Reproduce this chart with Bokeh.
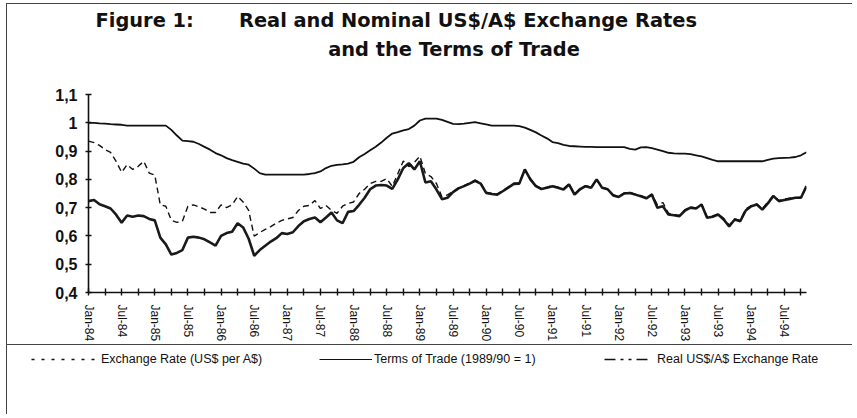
from bokeh.plotting import figure
from bokeh.models import (Range1d, FixedTicker, CustomJSTickFormatter, Title,
                          Legend, LegendItem)
from bokeh.embed import file_html
from bokeh.resources import INLINE

# ---------------- data (monthly, Jan-84 onwards) ----------------
TICK_LABELS = ["Jan-84", "Jul-84", "Jan-85", "Jul-85", "Jan-86", "Jul-86",
               "Jan-87", "Jul-87", "Jan-88", "Jul-88", "Jan-89", "Jul-89",
               "Jan-90", "Jul-90", "Jan-91", "Jul-91", "Jan-92", "Jul-92",
               "Jan-93", "Jul-93", "Jan-94", "Jul-94"]

TERMS_OF_TRADE = [
    1.0, 1.0, 0.998, 0.997, 0.995, 0.994, 0.993, 0.99, 0.99, 0.99, 0.99, 0.99,
    0.99, 0.99, 0.99, 0.975, 0.955, 0.937, 0.935, 0.933, 0.925, 0.915, 0.905, 0.893,
    0.885, 0.875, 0.868, 0.862, 0.856, 0.852, 0.838, 0.822, 0.817, 0.817, 0.817, 0.817,
    0.817, 0.817, 0.817, 0.817, 0.819, 0.822, 0.828, 0.84, 0.848, 0.851, 0.853, 0.856,
    0.862, 0.878, 0.89, 0.903, 0.915, 0.93, 0.947, 0.962, 0.967, 0.973, 0.978,
    0.99, 1.008, 1.015, 1.015, 1.015, 1.01, 1.003, 0.996, 0.995, 0.997, 1.0, 1.002,
    0.998, 0.994, 0.99, 0.99, 0.99, 0.99, 0.99, 0.988, 0.983, 0.975, 0.966, 0.955,
    0.945, 0.932, 0.928, 0.922, 0.918, 0.917, 0.916, 0.915, 0.915, 0.914, 0.914, 0.914,
    0.914, 0.914, 0.914, 0.908, 0.905, 0.913, 0.914, 0.91, 0.905, 0.9, 0.894, 0.892,
    0.891, 0.891, 0.889, 0.885, 0.881, 0.875, 0.869, 0.864, 0.864, 0.864, 0.864, 0.864,
    0.864, 0.864, 0.864, 0.864, 0.869, 0.873, 0.875, 0.876, 0.877, 0.879, 0.885, 0.896]

REAL_RATE = [
    0.723, 0.727, 0.712, 0.705, 0.697, 0.675, 0.647, 0.672, 0.668, 0.672, 0.67, 0.66,
    0.655, 0.594, 0.57, 0.534, 0.54, 0.55, 0.594, 0.597, 0.594, 0.588, 0.577, 0.566,
    0.60, 0.61, 0.615, 0.645, 0.63, 0.59, 0.53, 0.55, 0.565, 0.58, 0.592, 0.61,
    0.607, 0.613, 0.635, 0.652, 0.66, 0.665, 0.648, 0.665, 0.683, 0.655, 0.645, 0.685,
    0.688, 0.71, 0.735, 0.765, 0.778, 0.78, 0.778, 0.766, 0.80, 0.84, 0.857,
    0.835, 0.864, 0.789, 0.793, 0.764, 0.73, 0.735, 0.755, 0.768, 0.776, 0.785, 0.795,
    0.785, 0.752, 0.748, 0.746, 0.758, 0.771, 0.784, 0.785, 0.835, 0.80, 0.776, 0.766,
    0.77, 0.776, 0.77, 0.764, 0.782, 0.746, 0.765, 0.776, 0.77, 0.80, 0.77, 0.765,
    0.743, 0.738, 0.75, 0.752, 0.746, 0.74, 0.733, 0.746, 0.70, 0.705, 0.676, 0.673,
    0.67, 0.69, 0.70, 0.697, 0.711, 0.664, 0.668, 0.676, 0.658, 0.634, 0.658, 0.652,
    0.69, 0.705, 0.711, 0.693, 0.715, 0.741, 0.723, 0.727, 0.731, 0.735, 0.735, 0.776]

NOMINAL_RATE = [
    0.935, 0.93, 0.92, 0.905, 0.895, 0.864, 0.825, 0.852, 0.835, 0.846, 0.864, 0.822,
    0.815, 0.71, 0.705, 0.655, 0.648, 0.652, 0.705, 0.71, 0.703, 0.695, 0.683, 0.683,
    0.71, 0.70, 0.71, 0.74, 0.72, 0.69, 0.599, 0.612, 0.623, 0.633, 0.645, 0.655,
    0.66, 0.665, 0.69, 0.705, 0.708, 0.725, 0.697, 0.708, 0.69, 0.68, 0.705, 0.715,
    0.72, 0.75, 0.765, 0.785, 0.793, 0.793, 0.803, 0.775, 0.82, 0.865, 0.845,
    0.86, 0.882, 0.82, 0.81, 0.785, 0.738, 0.745, 0.757, 0.77, 0.778, 0.787, 0.797,
    0.787, 0.755, 0.75, 0.748, 0.76, 0.773, 0.786, 0.787, 0.835, 0.802, 0.778, 0.768,
    0.772, 0.778, 0.772, 0.766, 0.784, 0.748, 0.767, 0.778, 0.772, 0.80, 0.772, 0.765,
    0.745, 0.74, 0.752, 0.754, 0.748, 0.742, 0.735, 0.748, 0.71, 0.718, 0.68, 0.675,
    0.672, 0.692, 0.702, 0.698, 0.712, 0.668, 0.67, 0.678, 0.662, 0.638, 0.66, 0.655,
    0.695, 0.707, 0.713, 0.696, 0.72, 0.743, 0.725, 0.73, 0.733, 0.735, 0.737, 0.772]

SERIES_NAMES = ["Exchange Rate (US$ per A$)", "Terms of Trade (1989/90 = 1)",
                "Real US$/A$ Exchange Rate"]
TITLE_TEXT = ("Figure 1:\u2003\u2003\u2004Real and Nominal US$/A$ Exchange Rates\n"
              + "\u2003" * 12 + "and the Terms of Trade")

MONTHS = list(range(len(TERMS_OF_TRADE)))
N = len(MONTHS)

LINE_BG = "linear-gradient(#444, #444)"

# ---------------- chart ----------------
p = figure(width=852, height=342, frame_width=718, frame_height=198,
           x_range=Range1d(0, N - 1), y_range=Range1d(0.4, 1.1),
           min_border_left=88, min_border_right=46, min_border_top=94,
           min_border_bottom=50, toolbar_location=None, output_backend="svg",
           border_fill_color=None, background_fill_color=None,
           outline_line_color=None,
           styles={"background-image": ", ".join([LINE_BG] * 2),
                   "background-size": "1px 100%, 100% 1px",
                   "background-position": "6px 3px, 6px 3px",
                   "background-repeat": "no-repeat"})
p.grid.visible = False

p.line(MONTHS, TERMS_OF_TRADE, line_color="#111111", line_width=1.8)
p.line(MONTHS, REAL_RATE, line_color="#1a1a1a", line_width=2.6)
p.line(MONTHS, NOMINAL_RATE, line_color="#111111", line_width=1.4,
       line_dash="6 4")

major = list(range(0, N, 6))
minor = list(range(3, N, 6))
p.xaxis.ticker = FixedTicker(ticks=major, minor_ticks=minor)
p.xaxis.major_label_overrides = {m: TICK_LABELS[i] for i, m in enumerate(major)}
p.xaxis.major_label_orientation = "vertical"
p.xaxis.major_label_text_font = "Liberation Sans"
p.xaxis.major_label_text_font_size = "12px"
p.xaxis.major_label_text_color = "#111111"
p.xaxis.major_label_standoff = 9
p.xaxis.major_tick_in = 4
p.xaxis.major_tick_out = 3
p.xaxis.minor_tick_in = 4
p.xaxis.minor_tick_out = 3

p.yaxis.ticker = FixedTicker(ticks=[0.4, 0.5, 0.6, 0.7, 0.8, 0.9, 1.0, 1.1],
                             minor_ticks=[])
p.yaxis.formatter = CustomJSTickFormatter(
    code="return (Math.round(tick*10)/10).toString().replace('.', ',');")
p.yaxis.major_label_text_font = "Liberation Sans"
p.yaxis.major_label_text_font_style = "bold"
p.yaxis.major_label_text_font_size = "16px"
p.yaxis.major_label_text_color = "#111111"
p.yaxis.major_label_standoff = 8
p.yaxis.major_tick_in = 3
p.yaxis.major_tick_out = 3

for ax in (p.xaxis, p.yaxis):
    ax.axis_line_width = 1.6
    ax.axis_line_color = "#111111"
    ax.major_tick_line_width = 1.4
    ax.major_tick_line_color = "#111111"
    ax.minor_tick_line_width = 1.4
    ax.minor_tick_line_color = "#111111"

# spacer panel between frame and title (first added sits next to the frame)
p.add_layout(Title(text=" ", text_font_size="2px", standoff=30), "above")
p.add_layout(Title(text=TITLE_TEXT, align="left", offset=7, standoff=0,
                   text_font="DejaVu Sans", text_font_style="bold",
                   text_font_size="19.4px", text_color="#111111",
                   text_line_height=1.25), "above")

# ---------------- legend strip ----------------
# ranges chosen so the key lines themselves fall outside the visible strip
pl = figure(width=852, height=70, x_range=Range1d(0, 1), y_range=Range1d(10, 11),
            min_border=0, toolbar_location=None, output_backend="svg",
            x_axis_location=None, y_axis_location=None,
            border_fill_color=None, background_fill_color=None,
            outline_line_color=None,
            styles={"background-image": ", ".join([LINE_BG] * 2),
                    "background-size": "1px 100%, 100% 1px",
                    "background-position": "6px 0, 6px 0",
                    "background-repeat": "no-repeat"})
pl.grid.visible = False

k_nom = pl.line(MONTHS, NOMINAL_RATE, line_color="#111111", line_width=1.6,
                line_dash="3 7")
k_tot = pl.line(MONTHS, TERMS_OF_TRADE, line_color="#111111", line_width=1.0)
k_real = pl.line(MONTHS, REAL_RATE, line_color="#111111", line_width=1.6,
                 line_dash="11 5 3 5 3 5")

legend_specs = [(k_nom, SERIES_NAMES[0], 31, 68, 2),
                (k_tot, SERIES_NAMES[1], 319, 53, 2),
                (k_real, SERIES_NAMES[2], 604, 48, 5)]
for r, name, x0, gw, stand in legend_specs:
    lg = Legend(items=[LegendItem(label=name, renderers=[r])],
                location=(x0, 48), padding=0, margin=0,
                glyph_width=gw, glyph_height=14, label_height=14,
                label_standoff=stand, border_line_color=None,
                background_fill_alpha=0,
                label_text_font="Liberation Sans",
                label_text_font_size="12.5px", label_text_color="#111111")
    pl.add_layout(lg, "center")

open("out.html", "w").write(file_html([p, pl], INLINE))
